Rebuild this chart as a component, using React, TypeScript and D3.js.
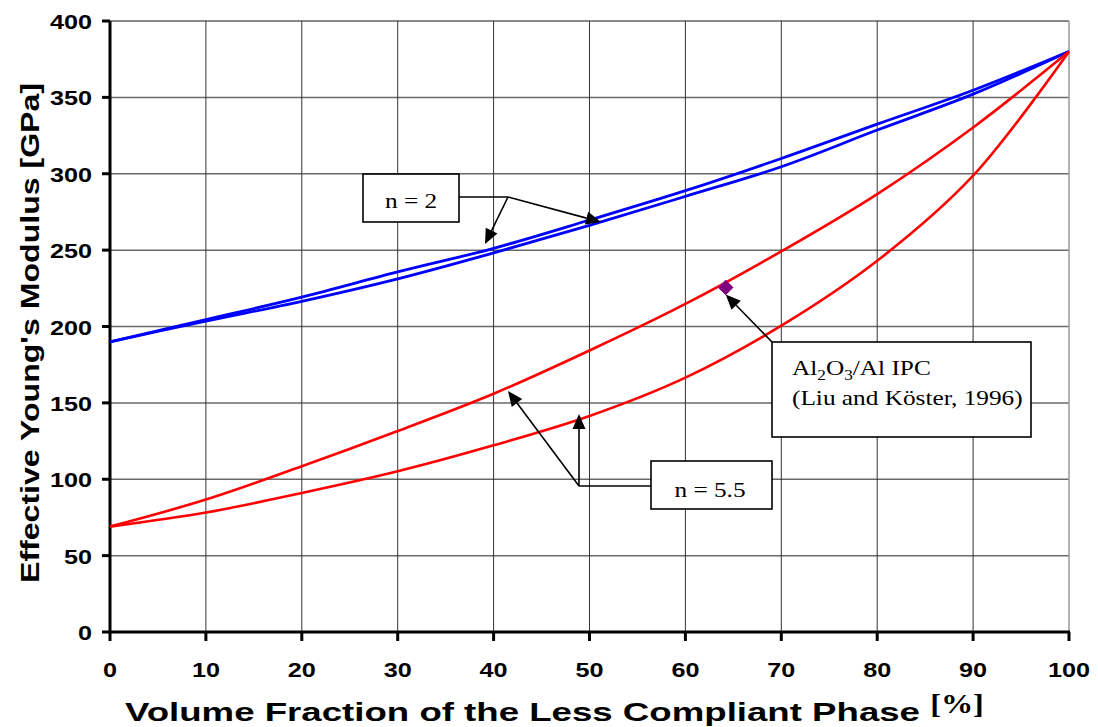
import React from "react";
import * as d3 from "d3";

const xValues = [0, 10, 20, 30, 40, 50, 60, 70, 80, 90, 100];
const blueUpper = [190, 204.5, 219.2, 235.7, 251.2, 269.7, 288.9, 310, 332.5, 354.7, 380];
const blueLower = [190, 203.5, 216.5, 231.2, 248.2, 266.2, 285.2, 304.6, 328.6, 352.1, 380];
const redUpper = [69, 86.7, 108.5, 131.6, 156, 184.3, 214.8, 249.2, 286.7, 330.3, 380];
const redLower = [69, 78.2, 91, 105.2, 122.2, 141.4, 166.5, 200.5, 243, 298.7, 380];
const measured = [{ x: 64.2, y: 225.5 }];
const xTicks = [0, 10, 20, 30, 40, 50, 60, 70, 80, 90, 100];
const yTicks = [0, 50, 100, 150, 200, 250, 300, 350, 400];

const W = 1098, H = 727;
const L = 110, R = 1069, T = 21, B = 632;

export default function App() {
  const x = d3.scaleLinear().domain([0, 100]).range([L, R]);
  const y = d3.scaleLinear().domain([0, 400]).range([B, T]);
  const line = d3
    .line<number>()
    .x((_, i) => x(xValues[i]))
    .y((d) => y(d))
    .curve(d3.curveCatmullRom.alpha(0.5));

  const sans = "'Liberation Sans', Arial, sans-serif";
  const serif = "'Liberation Serif', 'Times New Roman', serif";

  const arrow = (x1: number, y1: number, x2: number, y2: number, key: string) => {
    const ang = Math.atan2(y2 - y1, x2 - x1);
    const len = 15, half = 6.5;
    const bx = x2 - len * Math.cos(ang), by = y2 - len * Math.sin(ang);
    const px = -Math.sin(ang) * half, py = Math.cos(ang) * half;
    return (
      <g key={key}>
        <line x1={x1} y1={y1} x2={bx} y2={by} stroke="#000" strokeWidth={1.6} />
        <polygon points={`${x2},${y2} ${bx + px},${by + py} ${bx - px},${by - py}`} fill="#000" />
      </g>
    );
  };

  const m = measured[0];
  const mx = x(m.x), my = y(m.y);
  const sx = 1.2;
  const ssx = 1.15;

  return (
    <svg width={W} height={H} style={{ position: "absolute", left: 0, top: 0 }}>
      <rect x={0} y={0} width={W} height={H} fill="#fff" />
      {/* grid */}
      {yTicks.slice(1).map((t) => (
        <line key={"h" + t} x1={L} x2={R} y1={y(t)} y2={y(t)} stroke={t === 400 ? "#888" : "#6a6a6a"} strokeWidth={t === 400 ? 2 : 1.5} />
      ))}
      {xTicks.slice(1).map((t) => (
        <line key={"v" + t} x1={x(t)} x2={x(t)} y1={T} y2={B} stroke={t === 100 ? "#999" : "#333"} strokeWidth={t === 100 ? 1.5 : 1} />
      ))}
      {/* axes */}
      <line x1={L} x2={L} y1={T} y2={B + 1} stroke="#000" strokeWidth={3} />
      <line x1={L - 1} x2={R + 1} y1={B} y2={B} stroke="#000" strokeWidth={3} />
      {yTicks.map((t) => (
        <g key={"yt" + t}>
          <line x1={L - 8} x2={L} y1={y(t)} y2={y(t)} stroke="#000" strokeWidth={3} />
          <text transform={`translate(92,${y(t) + 8}) scale(${sx},1)`} textAnchor="end" fontFamily={sans} fontWeight="bold" fontSize={21}>{t}</text>
        </g>
      ))}
      {xTicks.map((t) => (
        <g key={"xt" + t}>
          <line x1={x(t)} x2={x(t)} y1={B} y2={B + 9} stroke="#000" strokeWidth={3} />
          <text transform={`translate(${x(t)},677) scale(${sx},1)`} textAnchor="middle" fontFamily={sans} fontWeight="bold" fontSize={21}>{t}</text>
        </g>
      ))}
      {/* curves */}
      <path d={line(blueUpper) || ""} fill="none" stroke="#0000ff" strokeWidth={2.8} />
      <path d={line(blueLower) || ""} fill="none" stroke="#0000ff" strokeWidth={2.8} />
      <path d={line(redUpper) || ""} fill="none" stroke="#ff0000" strokeWidth={2.6} />
      <path d={line(redLower) || ""} fill="none" stroke="#ff0000" strokeWidth={2.6} />
      {/* measured point */}
      <rect x={mx - 5.5} y={my - 5.5} width={11} height={11} fill="#800080" transform={`rotate(45 ${mx} ${my})`} />

      {/* n = 2 annotation */}
      <rect x={363} y={174} width={96} height={48} fill="#fff" stroke="#000" strokeWidth={1.6} />
      <text transform={`translate(411,208) scale(${ssx},1)`} textAnchor="middle" fontFamily={serif} fontSize={22}>n = 2</text>
      <line x1={459} y1={197} x2={508} y2={197} stroke="#000" strokeWidth={1.6} />
      {arrow(508, 197, 601, 222, "a1")}
      {arrow(508, 197, 485, 244, "a2")}

      {/* Al2O3 annotation */}
      {arrow(772, 342, mx, my + 7, "a3")}
      <rect x={772} y={342} width={259} height={95} fill="#fff" stroke="#000" strokeWidth={1.6} />
      <text transform={`translate(792,375) scale(${ssx},1)`} fontFamily={serif} fontSize={22}>
        Al<tspan fontSize={15} dy={5}>2</tspan><tspan dy={-5}>O</tspan><tspan fontSize={15} dy={5}>3</tspan><tspan dy={-5}>/Al IPC</tspan>
      </text>
      <text transform={`translate(792,405) scale(${ssx},1)`} fontFamily={serif} fontSize={22}>(Liu and Köster, 1996)</text>

      {/* n = 5.5 annotation */}
      <rect x={651} y={461} width={121} height={48} fill="#fff" stroke="#000" strokeWidth={1.6} />
      <text transform={`translate(710,497) scale(${ssx},1)`} textAnchor="middle" fontFamily={serif} fontSize={22}>n = 5.5</text>
      <line x1={579} y1={486} x2={651} y2={486} stroke="#000" strokeWidth={1.6} />
      {arrow(579, 486, 579, 414, "a4")}
      {arrow(579, 486, 508, 391, "a5")}

      {/* axis titles */}
      <text
        transform={`translate(39,${333}) rotate(-90)`}
        textAnchor="middle"
        fontFamily={sans}
        fontWeight="bold"
        fontSize={26}
        textLength={500}
        lengthAdjust="spacingAndGlyphs"
      >
        Effective Young's Modulus [GPa]
      </text>
      <text
        x={125}
        y={721}
        fontFamily={sans}
        fontWeight="bold"
        fontSize={26}
        textLength={795}
        lengthAdjust="spacingAndGlyphs"
      >
        Volume Fraction of the Less Compliant Phase
      </text>
      <text transform={`translate(957,713) scale(${ssx},1)`} textAnchor="middle" fontFamily={serif} fontWeight="bold" fontSize={28}>[%]</text>
    </svg>
  );
}
